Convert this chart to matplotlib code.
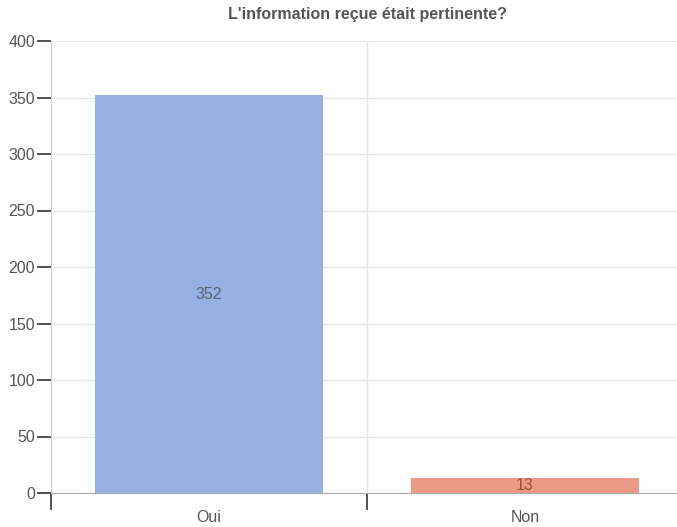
import matplotlib.pyplot as plt
import numpy as np

plt.rcParams['font.family'] = ['Liberation Sans', 'DejaVu Sans']

categories = ['Oui', 'Non']
counts = [352, 13]
colors = ['#97b0e3', '#eb9a86']
label_colors = ['#5a5f70', '#a24c36']
title = "L'information reçue était pertinente?"

fig = plt.figure(figsize=(6.77, 5.27), dpi=100)
ax = fig.add_axes([51 / 677, 34 / 527, 632 / 677, 452 / 527])

x = np.arange(len(categories))
bars = ax.bar(x, counts, width=0.72, color=colors, zorder=2)
for b, v, c in zip(bars, counts, label_colors):
    ax.text(b.get_x() + b.get_width() / 2, v / 2, str(v), ha='center', va='center',
            fontsize=11.5, color=c, zorder=3)

ax.set_xlim(-0.5, 1.5)
ax.set_ylim(0, 400)
ax.set_yticks(np.arange(0, 401, 50))
ax.set_xticks([-0.5, 0.5])
ax.set_xticklabels([])
ax.set_xticks(x, minor=True)
ax.set_xticklabels(categories, minor=True)
ax.tick_params(axis='x', which='major', length=12, width=1.2, color='#333333')
ax.tick_params(axis='x', which='minor', length=0, pad=12, labelsize=11.5, labelcolor='#555555')
ax.tick_params(axis='y', length=10, width=1.2, color='#333333', pad=1.5,
               labelsize=11.5, labelcolor='#555555')

ax.grid(True, axis='y', color='#e6e6e6', linewidth=1, zorder=0)
ax.axvline(0.5, color='#e6e6e6', linewidth=1, zorder=0)
for s in ['top', 'right']:
    ax.spines[s].set_visible(False)
ax.spines['left'].set_color('#d0d0d0')
ax.spines['bottom'].set_color('#aaaaaa')

fig.text(367 / 677, 1 - 15 / 527, title, ha='center', va='center',
         fontsize=11.5, fontweight='bold', color='#555555')

fig.savefig('out.png', dpi=100)
